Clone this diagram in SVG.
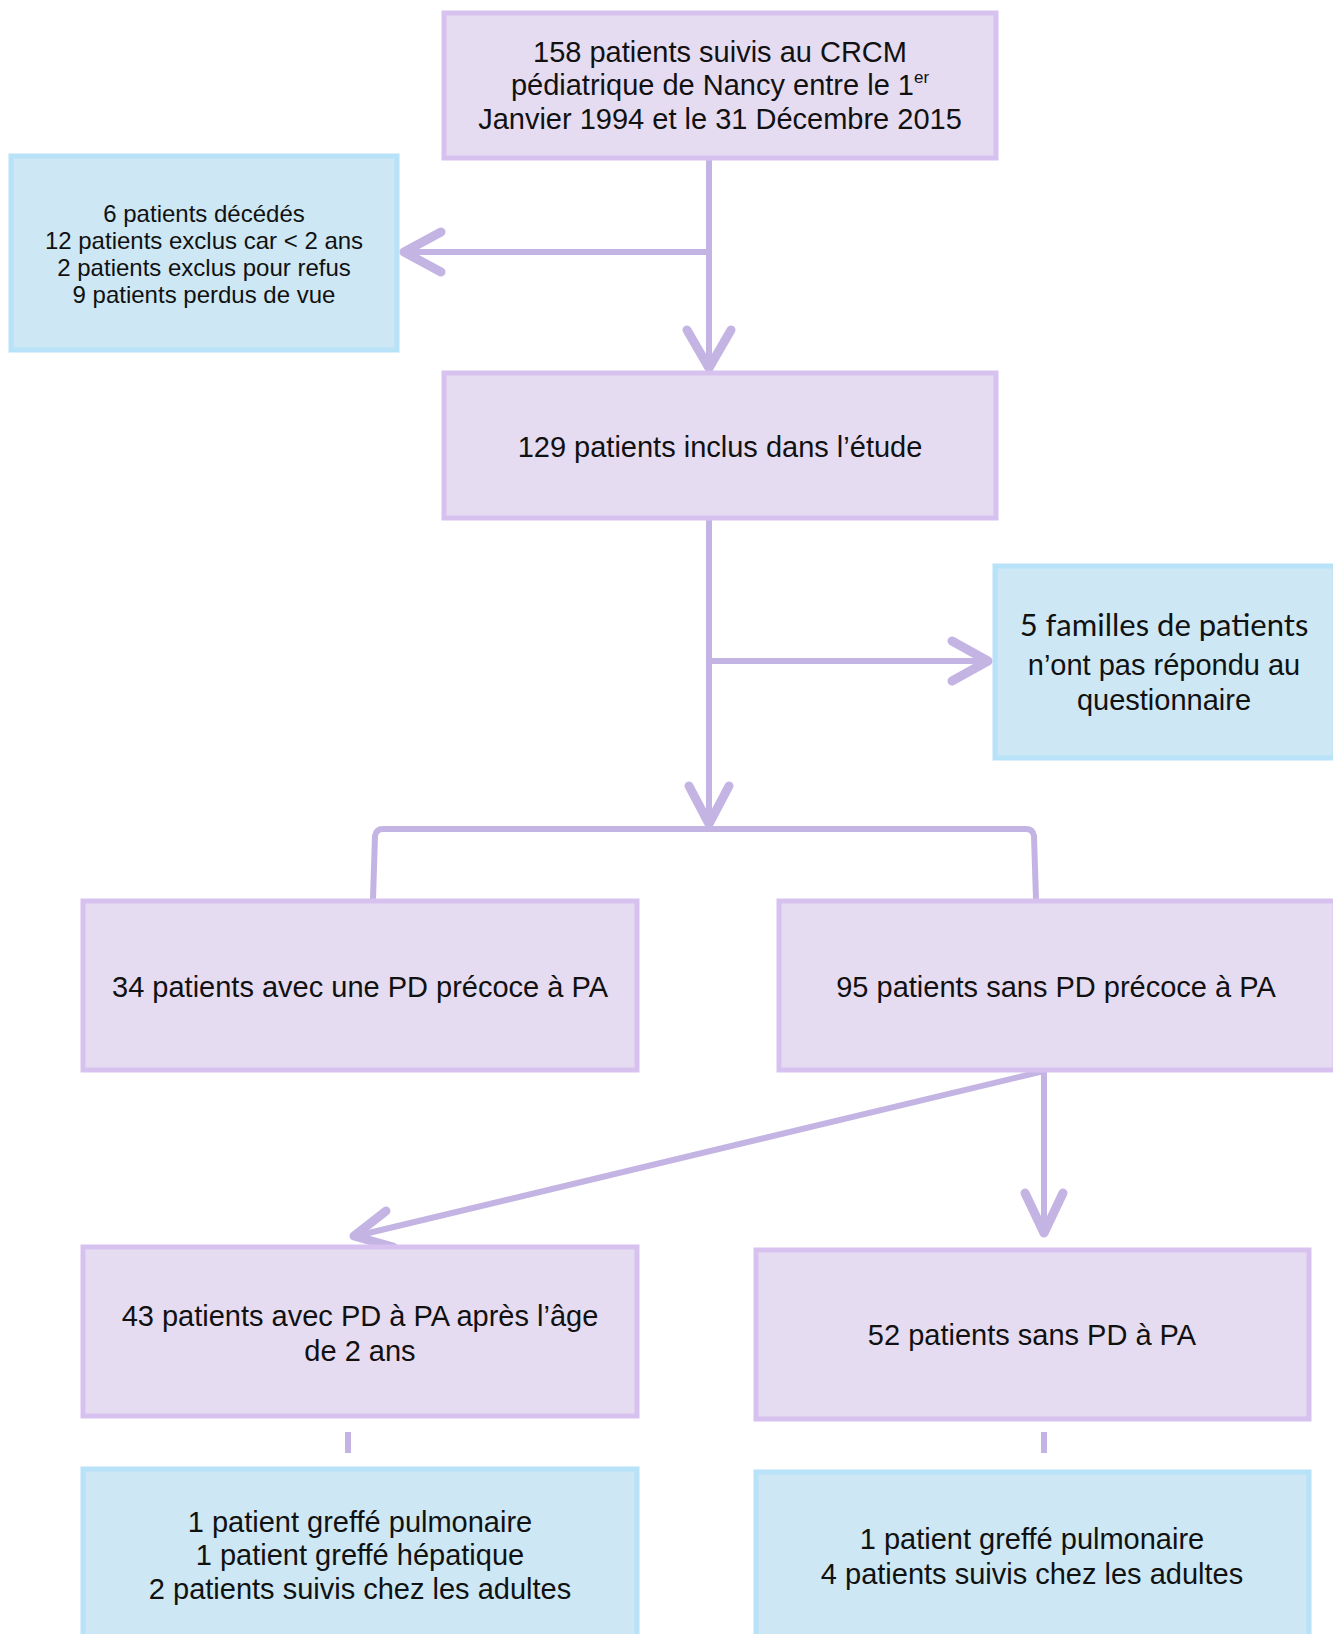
<svg xmlns="http://www.w3.org/2000/svg" width="1333" height="1634" viewBox="0 0 1333 1634">
<style>
.p{fill:#e6dcf2;stroke:#d7c2ef;stroke-width:5}
.b{fill:#cde7f4;stroke:#b7e2f8;stroke-width:5}
.t{font-family:"Liberation Sans",Arial,sans-serif;font-size:29px;fill:#111;text-anchor:middle}
.s{font-size:24px}
.h{font-family:Lato,"Liberation Sans",sans-serif;font-size:31px}
.ln{fill:none;stroke:#c4b4e3;stroke-width:6}
.ah{fill:none;stroke:#c4b4e3;stroke-width:9;stroke-linecap:round;stroke-linejoin:round}
</style>
<rect width="1333" height="1634" fill="#fff"/>
<g id="connectors">
<line class="ln" x1="709" y1="159" x2="709" y2="368"/>
<polyline class="ah" points="687,330 709,368 731,330"/>
<line class="ln" x1="709" y1="252" x2="404" y2="252"/>
<polyline class="ah" points="441,232 404,252 441,272"/>
<line class="ln" x1="709" y1="519" x2="709" y2="824"/>
<polyline class="ah" points="689,786 709,824 729,786"/>
<line class="ln" x1="709" y1="661" x2="988" y2="661"/>
<polyline class="ah" points="952,641 988,661 952,681"/>
<path class="ln" d="M373,899 L375,836 Q376,829 383,829 L1026,829 Q1033,829 1034,836 L1036,899"/>
<line class="ln" x1="1044" y1="1071" x2="1044" y2="1233"/>
<polyline class="ah" points="1025,1193 1044,1233 1063,1193"/>
<line class="ln" x1="1044" y1="1071" x2="356" y2="1236"/>
<polyline class="ah" points="386,1211 354,1236 393,1247"/>
<line class="ln" x1="348" y1="1432" x2="348" y2="1453"/>
<line class="ln" x1="1044" y1="1432" x2="1044" y2="1453"/>
</g>
<g id="n1">
<rect class="p" x="444" y="13" width="552" height="145"/>
<text class="t" x="720" y="62">158 patients suivis au CRCM</text>
<text class="t" x="720" y="95">pédiatrique de Nancy entre le 1<tspan font-size="17" dy="-12">er</tspan></text>
<text class="t" x="720" y="129">Janvier 1994 et le 31 Décembre 2015</text>
</g>
<g id="n2">
<rect class="b" x="11" y="156" width="386" height="194"/>
<text class="t s" x="204" y="222">6 patients décédés</text>
<text class="t s" x="204" y="249">12 patients exclus car &lt; 2 ans</text>
<text class="t s" x="204" y="276">2 patients exclus pour refus</text>
<text class="t s" x="204" y="303">9 patients perdus de vue</text>
</g>
<g id="n3">
<rect class="p" x="444" y="373" width="552" height="145"/>
<text class="t" x="720" y="457">129 patients inclus dans l’étude</text>
</g>
<g id="n4">
<rect class="b" x="995" y="566" width="340" height="192"/>
<text class="t h" x="1164" y="636">5 familles de patients</text>
<text class="t" x="1164" y="675">n’ont pas répondu au</text>
<text class="t" x="1164" y="710">questionnaire</text>
</g>
<g id="n5">
<rect class="p" x="83" y="901" width="554" height="169"/>
<text class="t" x="360" y="997">34 patients avec une PD précoce à PA</text>
</g>
<g id="n6">
<rect class="p" x="779" y="901" width="556" height="169"/>
<text class="t" x="1056" y="997">95 patients sans PD précoce à PA</text>
</g>
<g id="n7">
<rect class="p" x="83" y="1247" width="554" height="169"/>
<text class="t" x="360" y="1326">43 patients avec PD à PA après l’âge</text>
<text class="t" x="360" y="1361">de 2 ans</text>
</g>
<g id="n8">
<rect class="p" x="756" y="1250" width="553" height="169"/>
<text class="t" x="1032" y="1345">52 patients sans PD à PA</text>
</g>
<g id="n9">
<rect class="b" x="83" y="1469" width="554" height="180"/>
<text class="t" x="360" y="1532">1 patient greffé pulmonaire</text>
<text class="t" x="360" y="1565">1 patient greffé hépatique</text>
<text class="t" x="360" y="1599">2 patients suivis chez les adultes</text>
</g>
<g id="n10">
<rect class="b" x="756" y="1472" width="553" height="180"/>
<text class="t" x="1032" y="1549">1 patient greffé pulmonaire</text>
<text class="t" x="1032" y="1584">4 patients suivis chez les adultes</text>
</g>
</svg>
